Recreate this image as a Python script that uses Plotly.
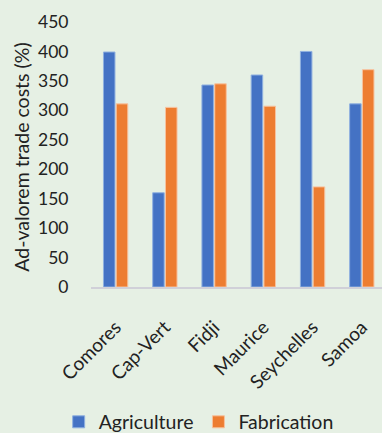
import plotly.graph_objects as go

countries = ["Comores", "Cap-Vert", "Fidji", "Maurice", "Seychelles", "Samoa"]
agriculture = [399, 160, 343, 360, 400, 311]
fabrication = [311, 305, 345, 307, 170, 369]

FONT = "Lato, 'Open Sans', sans-serif"
BG = "#E6F0E4"

fig = go.Figure()
fig.add_trace(go.Bar(x=countries, y=agriculture, name="Agriculture",
                     marker=dict(color="#4472C4", line=dict(color="#8FB0E0", width=1))))
fig.add_trace(go.Bar(x=countries, y=fabrication, name="Fabrication",
                     marker=dict(color="#ED7D31", line=dict(color="#F7C29E", width=1))))

fig.update_layout(
    width=382, height=433,
    margin=dict(l=91, r=0, t=22, b=146, pad=0, autoexpand=False),
    paper_bgcolor=BG, plot_bgcolor=BG,
    barmode="group", bargap=0.48, bargroupgap=0.1,
    font=dict(family=FONT, size=17, color="#222222"),
    showlegend=True,
    legend=dict(orientation="h", x=0.37, xanchor="center", y=-0.51, yanchor="middle",
                font=dict(size=19.5), itemwidth=30, bgcolor="rgba(0,0,0,0)"),
    annotations=[dict(text="Ad-valorem trade costs (%)", textangle=-90,
                      x=-0.285, y=0.49, xref="paper", yref="paper", xanchor="left",
                      showarrow=False, font=dict(size=19.5, family=FONT, color="#222222"))],
)
fig.update_xaxes(range=[-0.5, 5.41], tickangle=-45, showgrid=False, automargin=False,
                 showline=True, linecolor="#D0D0D8", linewidth=1.5,
                 ticks="outside", ticklen=20, tickcolor="rgba(0,0,0,0)",
                 tickfont=dict(size=19))
fig.update_yaxes(range=[0, 450], dtick=50, showgrid=False, zeroline=False, automargin=False,
                 showline=False, ticks="outside", ticklen=18,
                 tickcolor="rgba(0,0,0,0)", tickfont=dict(size=17.5))

fig.write_html("out.html")
